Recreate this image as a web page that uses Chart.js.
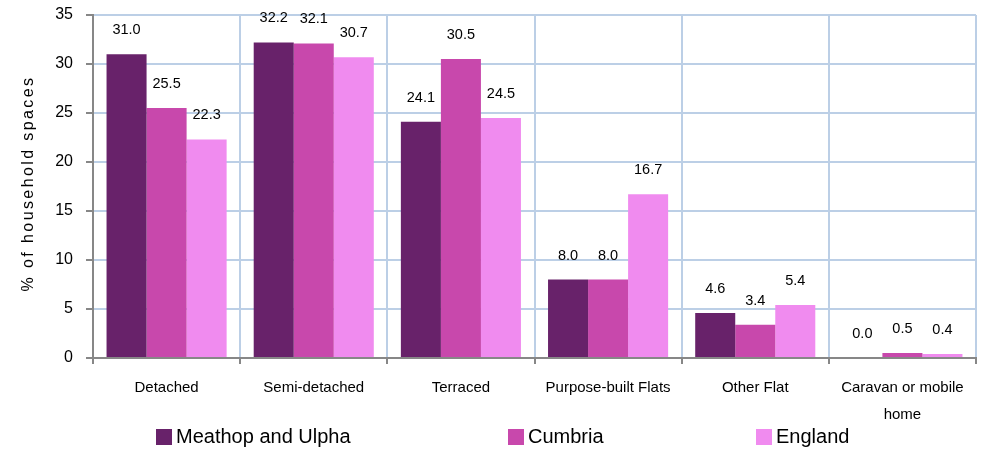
<!DOCTYPE html>
<html>
<head>
<meta charset="utf-8">
<title>Household spaces by dwelling type</title>
<script src="https://cdn.jsdelivr.net/npm/chart.js@4/dist/chart.umd.min.js"></script>
<style>
    html, body { margin: 0; padding: 0; background: #ffffff; }
    #wrap { position: relative; width: 987px; height: 451px; }
</style>
</head>
<body>
<div id="wrap"><canvas id="dwellingChart" width="987" height="451"></canvas></div>
<script>
// ===================================
// Dwelling type chart
// ===================================

const categories = [
    'Detached',
    'Semi-detached',
    'Terraced',
    'Purpose-built Flats',
    'Other Flat',
    ['Caravan or mobile', 'home']
];
const seriesNames = ['Meathop and Ulpha', 'Cumbria', 'England'];
const meathopValues = [31.0, 32.2, 24.1, 8.0, 4.6, 0.0];
const cumbriaValues = [25.5, 32.1, 30.5, 8.0, 3.4, 0.5];
const englandValues = [22.3, 30.7, 24.5, 16.7, 5.4, 0.4];
const yTicks = [0, 5, 10, 15, 20, 25, 30, 35];
const yAxisTitle = '% of household spaces';

const seriesColors = ['#68226a', '#c848ac', '#f08bef'];
const gridColor = '#bccfe6';
const axisColor = '#878787';
const fontFamily = 'Liberation Sans, Arial, sans-serif';

// Value labels drawn above each bar
const barValueLabels = {
    id: 'barValueLabels',
    afterDatasetsDraw(chart) {
        const ctx = chart.ctx;
        ctx.save();
        ctx.font = '14.5px ' + fontFamily;
        ctx.fillStyle = '#000000';
        ctx.textAlign = 'center';
        ctx.textBaseline = 'middle';
        chart.data.datasets.forEach((ds, i) => {
            chart.getDatasetMeta(i).data.forEach((bar, j) => {
                ctx.fillText(ds.data[j].toFixed(1), bar.x, bar.y - 24);
            });
        });
        ctx.restore();
    }
};

// Rotated y axis title, a little letter-spaced
const yTitle = {
    id: 'yTitle',
    afterDraw(chart) {
        const ctx = chart.ctx;
        const area = chart.chartArea;
        ctx.save();
        ctx.translate(29, (area.top + area.bottom) / 2 - 3);
        ctx.rotate(-Math.PI / 2);
        ctx.font = '16px ' + fontFamily;
        ctx.letterSpacing = '2.4px';
        ctx.fillStyle = '#000000';
        ctx.textAlign = 'center';
        ctx.textBaseline = 'middle';
        ctx.fillText(yAxisTitle, 0, 0);
        ctx.restore();
    }
};

// Legend row under the axis labels
const bottomLegend = {
    id: 'bottomLegend',
    afterDraw(chart) {
        const ctx = chart.ctx;
        const startX = [156, 508, 756];
        const top = 429;
        ctx.save();
        ctx.font = '20px ' + fontFamily;
        ctx.textBaseline = 'middle';
        ctx.textAlign = 'left';
        chart.data.datasets.forEach((ds, i) => {
            ctx.fillStyle = ds.backgroundColor;
            ctx.fillRect(startX[i], top, 16, 16);
            ctx.fillStyle = '#000000';
            ctx.fillText(ds.label, startX[i] + 20, top + 8);
        });
        ctx.restore();
    }
};

const seriesValues = [meathopValues, cumbriaValues, englandValues];

new Chart(document.getElementById('dwellingChart'), {
    type: 'bar',
    data: {
        labels: categories,
        datasets: seriesNames.map((name, i) => ({
            label: name,
            data: seriesValues[i],
            backgroundColor: seriesColors[i],
            borderWidth: 0,
            categoryPercentage: 0.816,
            barPercentage: 1.0
        }))
    },
    options: {
        responsive: false,
        animation: false,
        layout: {
            padding: { top: 15, right: 11, bottom: 23, left: 0 }
        },
        plugins: {
            legend: { display: false },
            tooltip: { enabled: false }
        },
        scales: {
            x: {
                grid: {
                    color: gridColor,
                    lineWidth: 2,
                    tickColor: axisColor,
                    tickLength: 6,
                    offset: true
                },
                border: { color: axisColor, width: 2 },
                ticks: {
                    color: '#000000',
                    padding: 10,
                    maxRotation: 0,
                    autoSkip: false,
                    font: { family: fontFamily, size: 15, lineHeight: 1.8 }
                },
                afterFit(scale) {
                    scale.height = 70;
                    scale.paddingLeft = 0;
                    scale.paddingRight = 0;
                }
            },
            y: {
                min: 0,
                max: 35,
                afterBuildTicks(scale) {
                    scale.ticks = yTicks.map(v => ({ value: v }));
                },
                grid: {
                    color: gridColor,
                    lineWidth: 2,
                    tickColor: axisColor,
                    tickLength: 7
                },
                border: { color: axisColor, width: 2 },
                ticks: {
                    color: '#000000',
                    padding: 13,
                    font: { family: fontFamily, size: 16 }
                },
                afterFit(scale) {
                    scale.width = 93;
                    scale.paddingTop = 0;
                    scale.paddingBottom = 0;
                }
            }
        }
    },
    plugins: [barValueLabels, yTitle, bottomLegend]
});
</script>
</body>
</html>
